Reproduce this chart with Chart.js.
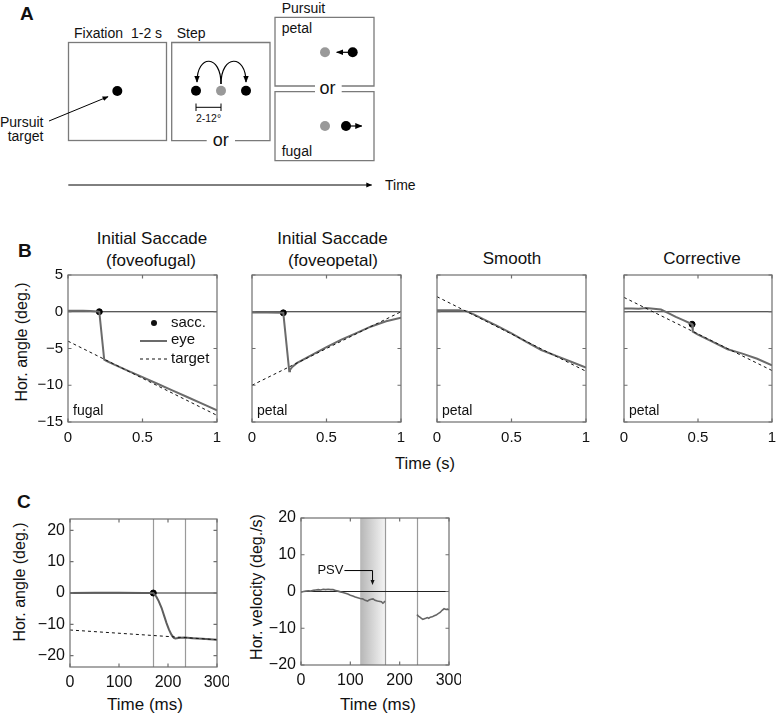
<!DOCTYPE html>
<html>
<head>
<meta charset="utf-8">
<script src="https://cdn.jsdelivr.net/npm/chart.js"></script>
<style>
html, body { margin: 0; padding: 0; background: #fff; }
body { width: 777px; height: 715px; position: relative; overflow: hidden;
       font-family: 'Liberation Sans', Arial, sans-serif; color: #111; }
canvas { position: absolute; }
.t { position: absolute; white-space: nowrap; line-height: 1; transform: translate(-50%, -50%); }
.rot { transform: translate(-50%, -50%) rotate(-90deg); }
.letter { position: absolute; font-weight: bold; font-size: 19px; line-height: 1; }
</style>
</head>
<body>

<!-- A: task schematic -->
<svg width="777" height="200" style="position:absolute;left:0;top:0" font-family="Liberation Sans, Arial, sans-serif" fill="#111">
  <defs>
    <marker id="ah" viewBox="0 0 10 10" refX="9" refY="5" markerWidth="6" markerHeight="6" orient="auto">
      <path d="M0,1 L10,5 L0,9 z" fill="#000"/>
    </marker>
  </defs>
  <text x="20" y="20" font-size="19" font-weight="bold">A</text>

  <text x="74" y="38" font-size="14">Fixation</text>
  <text x="131" y="38" font-size="14">1-2 s</text>
  <rect x="68.5" y="42.5" width="98" height="98" fill="none" stroke="#7a7a7a" stroke-width="1.3"/>
  <circle cx="117.3" cy="91" r="5" fill="#000"/>
  <line x1="49" y1="121" x2="108" y2="96.7" stroke="#000" stroke-width="1" marker-end="url(#ah)"/>
  <text x="43.5" y="126.5" font-size="14" text-anchor="end">Pursuit</text>
  <text x="43.5" y="141" font-size="14" text-anchor="end">target</text>

  <text x="176.7" y="38" font-size="14">Step</text>
  <path d="M206.7,140.7 H171.7 V42.5 H270 V140.7 H235" fill="none" stroke="#7a7a7a" stroke-width="1.3"/>
  <text x="220.8" y="145.5" font-size="18" text-anchor="middle">or</text>
  <circle cx="196" cy="90.7" r="5" fill="#000"/>
  <circle cx="221" cy="90.7" r="5" fill="#999"/>
  <circle cx="246" cy="90.7" r="5" fill="#000"/>
  <path d="M221,84 C221,54 197,54 197,82" fill="none" stroke="#000" stroke-width="1.2" marker-end="url(#ah)"/>
  <path d="M221,84 C221,54 246,54 246,82" fill="none" stroke="#000" stroke-width="1.2" marker-end="url(#ah)"/>
  <path d="M196,103.5 V111 M196,107.3 H221 M221,103.5 V111" fill="none" stroke="#000" stroke-width="1"/>
  <text x="208.5" y="122" font-size="10.5" text-anchor="middle">2-12°</text>

  <text x="281.7" y="13" font-size="14">Pursuit</text>
  <path d="M315,86 H275 V17.3 H374 V86 H341.7" fill="none" stroke="#7a7a7a" stroke-width="1.3"/>
  <text x="281.7" y="33" font-size="14">petal</text>
  <circle cx="325" cy="52.3" r="5" fill="#999"/>
  <circle cx="352.7" cy="52.3" r="5" fill="#000"/>
  <line x1="349" y1="52.3" x2="336.7" y2="52.3" stroke="#000" stroke-width="1.2" marker-end="url(#ah)"/>
  <text x="327.5" y="94" font-size="18" text-anchor="middle">or</text>
  <path d="M315,91.7 H275 V160.7 H374 V91.7 H341.7" fill="none" stroke="#7a7a7a" stroke-width="1.3"/>
  <text x="281.7" y="156" font-size="14">fugal</text>
  <circle cx="325" cy="126" r="5" fill="#999"/>
  <circle cx="346" cy="126" r="5" fill="#000"/>
  <line x1="349" y1="126" x2="361.7" y2="126" stroke="#000" stroke-width="1.2" marker-end="url(#ah)"/>

  <line x1="68.3" y1="185" x2="371.7" y2="185" stroke="#000" stroke-width="1" marker-end="url(#ah)"/>
  <text x="385" y="190" font-size="14">Time</text>
</svg>

<div class="letter" style="left:18px;top:241px">B</div>
<div class="letter" style="left:17px;top:492px">C</div>

<div class="t" style="left:152px;top:238px;font-size:17px">Initial Saccade</div>
<div class="t" style="left:151px;top:260px;font-size:17px">(foveofugal)</div>
<div class="t" style="left:332.5px;top:238px;font-size:17px">Initial Saccade</div>
<div class="t" style="left:333px;top:260px;font-size:17px">(foveopetal)</div>
<div class="t" style="left:512px;top:258px;font-size:17px">Smooth</div>
<div class="t" style="left:702px;top:258px;font-size:17px">Corrective</div>

<div class="t rot" style="left:22px;top:342px;font-size:16px">Hor. angle (deg.)</div>
<div class="t" style="left:425px;top:463px;font-size:16.5px">Time (s)</div>
<div class="t rot" style="left:20px;top:582px;font-size:16px">Hor. angle (deg.)</div>
<div class="t rot" style="left:257px;top:586.5px;font-size:16px">Hor. velocity (deg./s)</div>
<div class="t" style="left:145px;top:704px;font-size:17px">Time (ms)</div>
<div class="t" style="left:378px;top:704px;font-size:17px">Time (ms)</div>

<script>
// B: example trials, time in s, horizontal angle in deg.
var bTimeTicks = [0, 0.5, 1];
var bAngleTicks = [5, 0, -5, -10, -15];

var fugalEyeT = [0, 0.05, 0.1, 0.15, 0.2, 0.21, 0.243, 0.26, 0.3, 0.4, 0.5, 0.6, 0.7, 0.8, 0.9, 1.0];
var fugalEyeY = [0.15, 0.15, 0.15, 0.1, 0.05, 0, -6.5, -6.7, -7.1, -8.0, -8.9, -9.8, -10.7, -11.6, -12.5, -13.4];
var fugalTargetT = [0, 1];
var fugalTargetY = [-4.0, -14.1];
var fugalSacc = [0.21, 0];

var petalEyeT = [0, 0.1, 0.2, 0.21, 0.25, 0.255, 0.27, 0.3, 0.4, 0.5, 0.6, 0.7, 0.8, 0.9, 1.0];
var petalEyeY = [-0.1, -0.1, -0.15, -0.15, -8.1, -7.9, -7.5, -7.0, -5.9, -4.8, -3.8, -2.9, -2.0, -1.3, -0.8];
var petalTargetT = [0, 1];
var petalTargetY = [-10.0, 0];
var petalSacc = [0.21, -0.15];

var smoothEyeT = [0, 0.1, 0.15, 0.2, 0.25, 0.3, 0.4, 0.5, 0.6, 0.7, 0.8, 0.9, 1.0];
var smoothEyeY = [0.2, 0.2, 0.2, 0.05, -0.4, -0.9, -1.9, -2.95, -4.1, -5.2, -6.0, -6.8, -7.6];
var smoothTargetT = [0, 1];
var smoothTargetY = [2.05, -8.1];

var corrEyeT = [0, 0.05, 0.1, 0.15, 0.2, 0.25, 0.3, 0.35, 0.4, 0.45, 0.46, 0.465, 0.5, 0.6, 0.7, 0.8, 0.9, 1.0];
var corrEyeY = [0.45, 0.45, 0.4, 0.5, 0.4, 0.3, -0.2, -0.7, -1.15, -1.6, -1.7, -2.7, -3.1, -4.1, -5.1, -5.7, -6.4, -7.3];
var corrTargetT = [0, 1];
var corrTargetY = [1.95, -8.0];
var corrSacc = [0.46, -1.7];

// C: single trial, time in ms
var cTimeTicks = [0, 100, 200, 300];
var cAngleTicks = [20, 10, 0, -10, -20];
var cVelTicks = [20, 10, 0, -10, -20];
var cMarkers = [170, 235];
var psvWindow = [120, 170];

var angEyeT = [0, 50, 100, 150, 170, 176, 181, 187, 192, 197, 202, 207, 212, 215, 225, 235, 250, 270, 300];
var angEyeY = [0, 0.1, 0.1, 0, 0, -1.1, -2.6, -4.8, -7.2, -9.6, -11.7, -13.3, -14.3, -14.5, -14.3, -14.2, -14.4, -14.6, -14.9];
var angTargetT = [0, 300];
var angTargetY = [-11.8, -14.9];
var angSacc = [170, 0];

var velEarlyT = [0, 5, 10, 15, 20, 25, 30, 35, 40, 45, 50, 55, 60, 65, 70, 75, 80, 85, 90, 95,
                 100, 105, 110, 115, 120, 125, 130, 135, 138, 142, 146, 150, 155, 160, 163, 166, 168, 170];
var velEarlyY = [-0.2, 0, 0.1, 0.2, 0.1, 0.3, 0.4, 0.5, 0.4, 0.6, 0.5, 0.6, 0.5, 0.5, 0.3, 0.1, -0.1, -0.3, -0.5, -0.7,
                 -1.0, -1.2, -1.5, -1.7, -1.9, -2.0, -2.4, -2.6, -2.3, -2.1, -2.0, -2.4, -2.6, -2.7, -2.8, -3.2, -3.0, -2.6];
var velLateT = [235, 238, 241, 244, 247, 250, 253, 256, 259, 262, 266, 270, 274, 278, 282, 286, 290, 294, 297, 300];
var velLateY = [-6.3, -6.7, -7.0, -7.3, -7.6, -7.4, -7.3, -7.1, -7.3, -7.0, -6.9, -6.6, -6.4, -6.0, -5.7, -5.1, -4.7, -4.9, -4.8, -5.0];

Chart.defaults.font.family = "'Liberation Sans', Arial, sans-serif";
Chart.defaults.color = '#111';

function pts(t, y) {
    return t.map(function(v, i) { return { x: v, y: y[i] }; });
}

function fmt(v) {
    return String(v).replace('-', '\u2212');
}

var EYE = '#6b6b6b';

function eyeSet(t, y, color, width) {
    return { label: 'eye', data: pts(t, y), showLine: true, borderColor: color || EYE,
             borderWidth: width || 2, pointRadius: 0, tension: 0 };
}
function targetSet(t, y) {
    return { label: 'target', data: pts(t, y), showLine: true, borderColor: '#111',
             borderWidth: 1, borderDash: [3, 3], pointRadius: 0 };
}
function saccSet(p) {
    return { label: 'sacc.', data: [{ x: p[0], y: p[1] }], pointRadius: 3,
             pointBackgroundColor: '#000', pointBorderColor: '#000', showLine: false };
}

// draws the matlab style axes box, inner ticks, zero line and annotations
var figPlugin = {
    id: 'fig',
    beforeDatasetsDraw: function(chart, args, o) {
        var ctx = chart.ctx, a = chart.chartArea, xs = chart.scales.x, ys = chart.scales.y;
        ctx.save();
        if (o.shade) {
            var s0 = xs.getPixelForValue(o.shade[0]), s1 = xs.getPixelForValue(o.shade[1]);
            var g = ctx.createLinearGradient(s0, 0, s1, 0);
            g.addColorStop(0, '#b6b6b6');
            g.addColorStop(1, '#f3f3f3');
            ctx.fillStyle = g;
            ctx.fillRect(s0, a.top, s1 - s0, a.bottom - a.top);
        }
        ctx.strokeStyle = '#9a9a9a';
        ctx.lineWidth = 1.2;
        (o.vlines || []).forEach(function(v) {
            var px = Math.round(xs.getPixelForValue(v)) + 0.5;
            ctx.beginPath();
            ctx.moveTo(px, a.top);
            ctx.lineTo(px, a.bottom);
            ctx.stroke();
        });
        var y0 = ys.getPixelForValue(0);
        ctx.strokeStyle = '#222';
        ctx.lineWidth = 1.2;
        ctx.beginPath();
        ctx.moveTo(a.left, y0);
        ctx.lineTo(a.right, y0);
        ctx.stroke();
        ctx.restore();
    },
    afterDatasetsDraw: function(chart, args, o) {
        var ctx = chart.ctx, a = chart.chartArea, xs = chart.scales.x, ys = chart.scales.y;
        var tl = 3.5;
        ctx.save();
        ctx.strokeStyle = '#6f6f6f';
        ctx.lineWidth = 1.2;
        ctx.strokeRect(a.left, a.top, a.right - a.left, a.bottom - a.top);
        ctx.beginPath();
        xs.ticks.forEach(function(t) {
            var px = xs.getPixelForValue(t.value);
            ctx.moveTo(px, a.bottom); ctx.lineTo(px, a.bottom - tl);
            ctx.moveTo(px, a.top); ctx.lineTo(px, a.top + tl);
        });
        ys.ticks.forEach(function(t) {
            var py = ys.getPixelForValue(t.value);
            ctx.moveTo(a.left, py); ctx.lineTo(a.left + tl, py);
            ctx.moveTo(a.right, py); ctx.lineTo(a.right - tl, py);
        });
        ctx.stroke();

        ctx.fillStyle = '#111';
        if (o.corner) {
            ctx.font = "14px 'Liberation Sans', Arial, sans-serif";
            ctx.textBaseline = 'middle';
            ctx.textAlign = 'left';
            ctx.fillText(o.corner, a.left + 5, a.bottom - 11);
        }
        if (o.legend) {
            var lx = a.left + o.legend.x, ly = a.top + o.legend.y;
            ctx.font = "15px 'Liberation Sans', Arial, sans-serif";
            ctx.textBaseline = 'middle';
            ctx.textAlign = 'left';
            ctx.beginPath();
            ctx.arc(lx + 14, ly, 3, 0, Math.PI * 2);
            ctx.fill();
            ctx.fillText('sacc.', lx + 31, ly);
            ctx.strokeStyle = EYE;
            ctx.lineWidth = 2;
            ctx.beginPath();
            ctx.moveTo(lx, ly + 18); ctx.lineTo(lx + 27, ly + 18);
            ctx.stroke();
            ctx.fillText('eye', lx + 31, ly + 17);
            ctx.strokeStyle = '#111';
            ctx.lineWidth = 1;
            ctx.setLineDash([3, 3]);
            ctx.beginPath();
            ctx.moveTo(lx, ly + 36); ctx.lineTo(lx + 27, ly + 36);
            ctx.stroke();
            ctx.setLineDash([]);
            ctx.fillText('target', lx + 31, ly + 36);
        }
        if (o.psv) {
            var p = o.psv;
            var x1 = xs.getPixelForValue(p.fromX), x2 = xs.getPixelForValue(p.toX);
            var yl = ys.getPixelForValue(p.y), yt = ys.getPixelForValue(p.tipY);
            ctx.font = "13px 'Liberation Sans', Arial, sans-serif";
            ctx.textBaseline = 'middle';
            ctx.textAlign = 'right';
            ctx.fillText(p.text, x1 - 1, yl);
            ctx.strokeStyle = '#000';
            ctx.lineWidth = 1;
            ctx.beginPath();
            ctx.moveTo(x1, yl); ctx.lineTo(x2, yl); ctx.lineTo(x2, yt - 4);
            ctx.stroke();
            ctx.beginPath();
            ctx.moveTo(x2 - 2, yt - 5); ctx.lineTo(x2 + 2, yt - 5); ctx.lineTo(x2, yt);
            ctx.closePath();
            ctx.fill();
        }
        ctx.restore();
    }
};

// area = plot box in page pixels, m = [left, top, right, bottom] margins around it
function makePlot(cfg) {
    var a = cfg.area, m = cfg.m;
    var w = (a[2] - a[0]) + m[0] + m[2], h = (a[3] - a[1]) + m[1] + m[3];
    var cv = document.createElement('canvas');
    cv.width = w; cv.height = h;
    cv.style.left = (a[0] - m[0]) + 'px';
    cv.style.top = (a[1] - m[1]) + 'px';
    cv.style.width = w + 'px';
    cv.style.height = h + 'px';
    document.body.appendChild(cv);
    new Chart(cv.getContext('2d'), {
        type: 'scatter',
        data: { datasets: cfg.datasets },
        plugins: [figPlugin],
        options: {
            responsive: false,
            animation: false,
            events: [],
            layout: { padding: { left: 0, top: m[1], right: m[2], bottom: 0 } },
            plugins: { legend: { display: false }, tooltip: { enabled: false }, fig: cfg.fig },
            scales: {
                x: {
                    type: 'linear', min: cfg.x[0], max: cfg.x[1],
                    grid: { display: false, drawTicks: false }, border: { display: false },
                    ticks: { font: { size: cfg.fontSize }, color: '#111', padding: cfg.xPad,
                             maxRotation: 0, autoSkip: false, callback: fmt },
                    afterBuildTicks: function(s) { s.ticks = cfg.xTicks.map(function(v) { return { value: v }; }); },
                    afterFit: function(s) { s.height = m[3]; s.paddingLeft = 0; s.paddingRight = 0; }
                },
                y: {
                    type: 'linear', min: cfg.y[0], max: cfg.y[1],
                    grid: { display: false, drawTicks: false }, border: { display: false },
                    ticks: { display: cfg.showY, font: { size: cfg.fontSize }, color: '#111', padding: 5,
                             autoSkip: false, callback: fmt },
                    afterBuildTicks: function(s) { s.ticks = cfg.yTicks.map(function(v) { return { value: v }; }); },
                    afterFit: function(s) { s.width = m[0]; s.paddingTop = 0; s.paddingBottom = 0; }
                }
            }
        }
    });
}

var bRows = [
    { area: [68, 275, 217, 422], m: [36, 10, 10, 26], showY: true,
      eye: [fugalEyeT, fugalEyeY], target: [fugalTargetT, fugalTargetY], sacc: fugalSacc,
      corner: 'fugal', legend: { x: 72, y: 48 } },
    { area: [252, 275, 401, 422], m: [12, 10, 10, 26], showY: false,
      eye: [petalEyeT, petalEyeY], target: [petalTargetT, petalTargetY], sacc: petalSacc, corner: 'petal' },
    { area: [437, 275, 586, 422], m: [12, 10, 10, 26], showY: false,
      eye: [smoothEyeT, smoothEyeY], target: [smoothTargetT, smoothTargetY], corner: 'petal' },
    { area: [624, 275, 772, 422], m: [12, 10, 5, 26], showY: false,
      eye: [corrEyeT, corrEyeY], target: [corrTargetT, corrTargetY], sacc: corrSacc, corner: 'petal' }
];

bRows.forEach(function(r) {
    var sets = [targetSet(r.target[0], r.target[1]), eyeSet(r.eye[0], r.eye[1])];
    if (r.sacc) sets.push(saccSet(r.sacc));
    makePlot({
        area: r.area, m: r.m, x: [0, 1], y: [-15, 5], xTicks: bTimeTicks, yTicks: bAngleTicks,
        showY: r.showY, fontSize: 15, xPad: 7, datasets: sets,
        fig: { corner: r.corner, legend: r.legend }
    });
});

makePlot({
    area: [70, 519, 217, 667], m: [40, 12, 12, 28], x: [0, 300], y: [-23.6, 23.6],
    xTicks: cTimeTicks, yTicks: cAngleTicks, showY: true, fontSize: 16, xPad: 6,
    datasets: [targetSet(angTargetT, angTargetY), eyeSet(angEyeT, angEyeY, '#5e5e5e', 2), saccSet(angSacc)],
    fig: { vlines: cMarkers }
});

makePlot({
    area: [301, 518, 449, 665], m: [40, 12, 12, 28], x: [0, 300], y: [-20, 20],
    xTicks: cTimeTicks, yTicks: cVelTicks, showY: true, fontSize: 16, xPad: 6,
    datasets: [eyeSet(velEarlyT, velEarlyY, '#666', 1.6), eyeSet(velLateT, velLateY, '#666', 1.6)],
    fig: { vlines: cMarkers, shade: psvWindow,
           psv: { text: 'PSV', fromX: 88, y: 5.7, toX: 145, tipY: 1.8 } }
});
</script>
</body>
</html>
